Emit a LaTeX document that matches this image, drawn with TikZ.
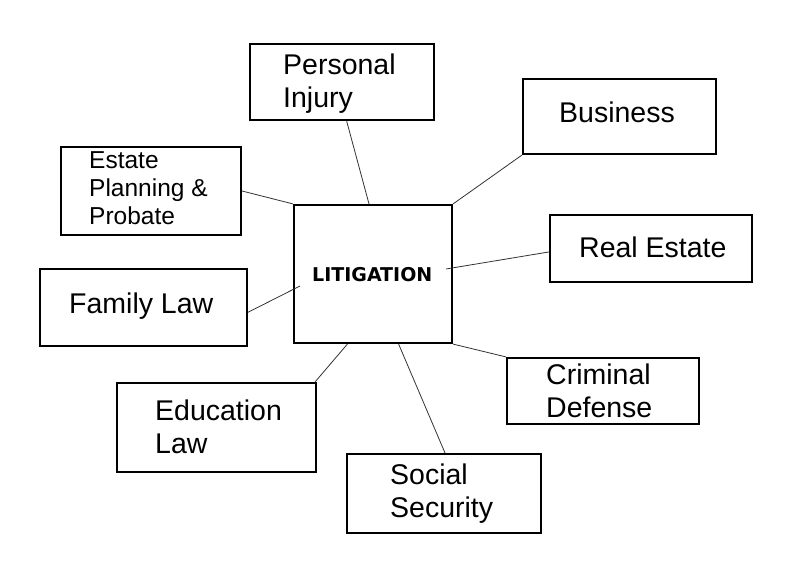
\documentclass[tikz,border=0pt]{standalone}
\usepackage{fontspec}
\setmainfont{Liberation Sans}
\newfontfamily\litfont{DejaVu Sans}
\usetikzlibrary{calc}
\tikzset{
  box/.style={draw=black, line width=2.2pt, minimum width=#1, inner sep=0pt},
  lbl/.style={anchor=base west, inner sep=0pt, align=left, font=\fontsize{28.5}{33}\selectfont},
  small/.style={anchor=base west, inner sep=0pt, align=left, font=\fontsize{24.5}{28}\selectfont},
  link/.style={draw=black!80, line width=0.8pt}
}
\begin{document}
\begin{tikzpicture}[x=1pt,y=-1pt]
\useasboundingbox[fill=white] (0,0) rectangle (787,564);
% boxes
\node[box=184pt, minimum height=76pt] (pi) at (342,82) {};
\node[box=193pt, minimum height=75pt] (bus) at (619.5,116.5) {};
\node[box=180pt, minimum height=88pt] (est) at (151,191) {};
\node[box=158pt, minimum height=138pt] (lit) at (373,274) {};
\node[box=202pt, minimum height=67pt] (re) at (651,248.5) {};
\node[box=207pt, minimum height=77pt] (fam) at (143.5,307.5) {};
\node[box=192pt, minimum height=66pt] (crim) at (603,391) {};
\node[box=199pt, minimum height=89pt] (edu) at (216.5,427.5) {};
\node[box=194pt, minimum height=79pt] (ss) at (444,493.5) {};
% texts (base = baseline of last line)
\node[lbl] (tpi) at (283,108) {Personal\\Injury};
\node[lbl] (tbus) at (559,123) {Business};
\node[small] (test) at (89,225) {Estate\\Planning \&\\Probate};
\node[anchor=base west, inner sep=0pt, font=\litfont\bfseries\fontsize{19}{21}\selectfont] (tlit) at (312,281) {LITIGATION};
\node[lbl] (tre) at (579,258) {Real Estate};
\node[lbl] (tfam) at (69,313) {Family Law};
\node[lbl] (tcrim) at (546,417) {Criminal\\Defense};
\node[lbl] (tedu) at (155,453) {Education\\Law};
\node[lbl] (tss) at (390,517) {Social\\Security};
% connector end points
\coordinate (piS) at ($(pi.south west)!0.525!(pi.south east)$);
\coordinate (litN1) at ($(lit.north west)!0.475!(lit.north east)$);
\coordinate (reW) at ($(re.north west)!0.55!(re.south west)$);
\coordinate (litIn1) at (446,269);
\coordinate (famE) at ($(fam.north east)!0.56!(fam.south east)$);
\coordinate (litIn2) at (300,286);
\coordinate (eduN) at ($(edu.north west)!0.99!(edu.north east)$);
\coordinate (litS1) at ($(lit.south west)!0.34!(lit.south east)$);
\coordinate (litS2) at ($(lit.south west)!0.66!(lit.south east)$);
\coordinate (ssN) at ($(ss.north west)!0.505!(ss.north east)$);
% connectors
\draw[link] (piS) -- (litN1);
\draw[link] (bus.south west) -- (lit.north east);
\draw[link] (est.east) -- (lit.north west);
\draw[link] (reW) -- (litIn1);
\draw[link] (famE) -- (litIn2);
\draw[link] (crim.north west) -- (lit.south east);
\draw[link] (eduN) -- (litS1);
\draw[link] (ssN) -- (litS2);
\end{tikzpicture}
\end{document}
